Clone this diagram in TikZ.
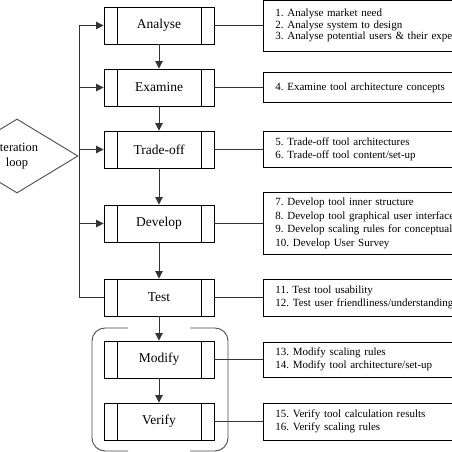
\documentclass[tikz,border=0pt]{standalone}
\usepackage{fontspec}
\setmainfont{Liberation Serif}
\usetikzlibrary{arrows.meta,shapes.geometric}
\frenchspacing
\begin{document}
\begin{tikzpicture}[x=1pt,y=-1pt,
  procbox/.style={draw=black,line width=0.9pt,minimum width=110pt,minimum height=37pt,inner sep=0pt,
    font=\fontsize{13.5}{15}\selectfont,
    path picture={
      \draw[line width=0.9pt] ([xshift=13pt]path picture bounding box.north west) -- ([xshift=13pt]path picture bounding box.south west);
      \draw[line width=0.9pt] ([xshift=-13pt]path picture bounding box.north east) -- ([xshift=-13pt]path picture bounding box.south east);}},
  rbox/.style={draw=black,line width=0.9pt,anchor=west,text width=320pt,inner xsep=12pt,inner ysep=0pt,align=left,
    font=\fontsize{11}{13.5}\selectfont},
  conn/.style={draw=black!80,line width=0.9pt},
  arr/.style={conn,-{Triangle[length=7.5pt,width=7.5pt]}},
  loopshape/.style={draw=black!70,line width=0.9pt},
  bracketline/.style={draw=black!70,line width=0.9pt,rounded corners=13pt}
]
\clip (0,0) rectangle (452,452);
\fill[white] (0,0) rectangle (452,452);

% process boxes
\node[procbox] (analyse)  at (159,25.5)  {Analyse};
\node[procbox] (examine)  at (159,87.5)  {Examine};
\node[procbox] (tradeoff) at (159,149.5) {Trade-off};
\node[procbox] (develop)  at (159,223.5) {Develop};
\node[procbox] (test)     at (159,297.5) {Test};
\node[procbox] (modify)   at (159,359.5) {Modify};
\node[procbox] (verify)   at (159,421.5) {Verify};

% iteration diamond
\node[loopshape,diamond,aspect=1.65,minimum width=122pt,minimum height=74pt,inner sep=0pt,align=center,
  font=\fontsize{12.5}{15}\selectfont] (iter) at (17,156) {Iteration\\loop};

% right boxes
\node[rbox,minimum height=51pt,font=\fontsize{11}{11.5}\selectfont] (r1) at (263,25.5)
  {1. Analyse market need\\2. Analyse system to design\\3. Analyse potential users \& their expec};
\node[rbox,minimum height=30pt] (r2) at (263,87.5) {4. Examine tool architecture concepts};
\node[rbox,minimum height=36pt] (r3) at (263,149.5) {5. Trade-off tool architectures\\6. Trade-off tool content/set-up};
\node[rbox,minimum height=62pt] (r4) at (263,223.5)
  {7. Develop tool inner structure\\8. Develop tool graphical user interface\\9. Develop scaling rules for conceptual\\10. Develop User Survey};
\node[rbox,minimum height=37pt] (r5) at (263,297.5) {11. Test tool usability\\12. Test user friendliness/understanding};
\node[rbox,minimum height=35pt] (r6) at (263,359.5) {13. Modify scaling rules\\14. Modify tool architecture/set-up};
\node[rbox,minimum height=37pt] (r7) at (263,421.5) {15. Verify tool calculation results\\16. Verify scaling rules};

% down arrows
\draw[arr] (analyse) -- (examine);
\draw[arr] (examine) -- (tradeoff);
\draw[arr] (tradeoff) -- (develop);
\draw[arr] (develop) -- (test);
\draw[arr] (test) -- (modify);
\draw[arr] (modify) -- (verify);

% loop back
\coordinate (loopx) at (79,0);
\draw[arr] (test.west) -| (loopx |- analyse.west) -- (analyse.west);
\draw[arr] (loopx |- examine.west) -- (examine.west);
\draw[arr] (loopx |- tradeoff.west) -- (tradeoff.west);
\draw[arr] (loopx |- develop.west) -- (develop.west);

% connectors to right boxes
\draw[conn] (analyse.east) -- (r1.west);
\draw[conn] (examine.east) -- (r2.west);
\draw[conn] (tradeoff.east) -- (r3.west);
\draw[conn] (develop.east) -- (r4.west);
\draw[conn] (test.east) -- (r5.west);
\draw[conn] (modify.east) -- (r6.west);
\draw[conn] (verify.east) -- (r7.west);

% bracket around modify / verify
\draw[bracketline] (128,328) -- (92,328) -- (92,451) -- (128,451);
\draw[bracketline] (190,328) -- (228,328) -- (228,451) -- (190,451);
\end{tikzpicture}
\end{document}
